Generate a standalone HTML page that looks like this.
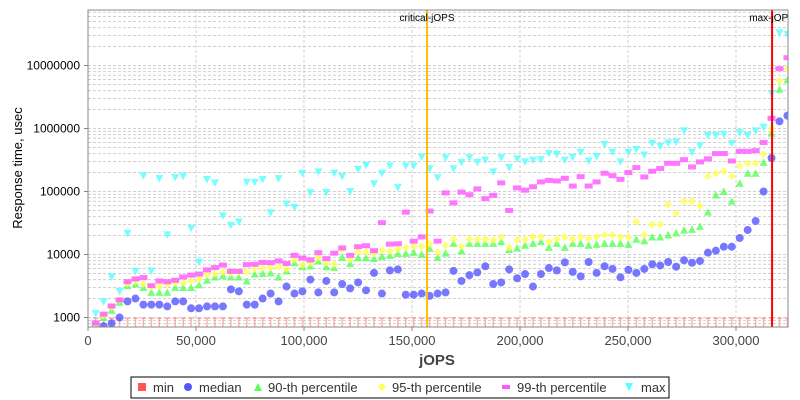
<!DOCTYPE html>
<html><head><meta charset="utf-8"><style>
body{margin:0;background:#fff;}
svg{display:block;font-family:"Liberation Sans",sans-serif;}
</style></head><body>
<svg id="chart" width="800" height="400" viewBox="0 0 800 400" xmlns="http://www.w3.org/2000/svg">
<defs><clipPath id="plotclip"><rect x="88" y="10" width="700" height="317"/></clipPath></defs>
<rect x="0" y="0" width="800" height="400" fill="#fff"/>
<rect x="88" y="10" width="700" height="317" fill="#fff"/>
<g id="grid"></g>
<g id="marks" clip-path="url(#plotclip)"></g>
<rect x="88" y="10" width="700" height="317" fill="none" stroke="#888" stroke-width="1"/>
<g id="axes"></g>
<text x="0" y="0" transform="translate(22,168) rotate(-90)" text-anchor="middle" font-size="13" fill="#000">Response time, usec</text>
<text x="437" y="365" text-anchor="middle" font-size="15" font-weight="bold" fill="#444">jOPS</text>
<g>
<rect x="131" y="377" width="538" height="21" fill="#fff" stroke="#000" stroke-width="1"/>
<g><rect x="138" y="383" width="8" height="8" fill="#ff5555"/><text x="153" y="392" font-size="13" fill="#333">min</text></g>
<g><circle cx="188" cy="387" r="4" fill="#5555ff"/><text x="199" y="392" font-size="13" fill="#333">median</text></g>
<g><polygon points="258,383 262,391 254,391" fill="#55ff55"/><text x="268" y="392" font-size="13" fill="#333">90-th percentile</text></g>
<g><polygon points="382,383 386,387 382,391 378,387" fill="#ffff55"/><text x="392" y="392" font-size="13" fill="#333">95-th percentile</text></g>
<g><rect x="502" y="385" width="8" height="4" fill="#ff55ff"/><text x="517" y="392" font-size="13" fill="#333">99-th percentile</text></g>
<g><polygon points="625,383 633,383 629,391" fill="#55ffff"/><text x="641" y="392" font-size="13" fill="#333">max</text></g>
</g>
</svg>
<script>
const jops=[3565,7246,10927,14608,18289,21970,25651,29332,33013,36694,40375,44056,47737,51418,55099,58780,62461,66142,69823,73504,77185,80866,84547,88228,91909,95590,99271,102952,106633,110314,113995,117676,121357,125038,128719,132400,136081,139762,143443,147124,150805,154486,158167,161848,165529,169210,172891,176572,180253,183934,187615,191296,194977,198658,202339,206020,209701,213382,217063,220744,224425,228106,231787,235468,239149,242830,246511,250192,253873,257554,261235,264916,268597,272278,275959,279640,283321,287002,290683,294364,298045,301726,305407,309088,312769,316450,320131,323812];
const minV=jops.map(()=>1000);
const median=[700,730,810,1000,1800,2000,1600,1600,1600,1500,1800,1800,1400,1400,1500,1500,1500,2800,2600,1600,1600,2000,
2400,1800,3100,2400,2600,4000,2500,3800,2500,3400,2900,3600,2700,5100,2400,5600,5800,2300,2300,2400,2200,2400,
2500,5500,3800,4700,5200,6500,3400,3600,5800,4200,4900,3100,4900,6100,5600,7500,5300,4500,7600,5100,6500,5900,
4350,5700,5100,5900,7000,6700,7600,6400,8100,7400,7900,10700,11500,13300,13300,18300,24500,34000,100000,340000,1300000,1600000];
const p90=[750,1000,1300,1750,3200,3400,3000,2500,2500,2500,3000,3000,3000,3300,3900,4400,4600,4400,4400,3800,4900,5000,
5100,4400,5500,7400,6400,6600,7900,6400,6200,9000,7200,8900,8900,8600,9300,9700,10400,10400,10800,10100,12500,9000,
10500,15000,11400,15000,15000,15000,15000,16000,12000,12600,14000,15000,16000,13000,15000,13000,15000,15000,14000,14500,15000,15000,
15000,14500,17500,16500,19000,19000,20500,22000,24500,25000,28000,47000,88000,100000,70000,135000,195000,195000,290000,840000,4200000,5900000];
const p95=[720,1070,1480,1900,3500,3800,3400,3100,3200,3400,3600,3600,3800,4100,4800,5000,5300,5100,5300,5300,5900,6200,
6200,6400,5900,8300,6800,7400,8900,7400,7000,11900,8300,11000,11000,10300,11700,11300,12100,13000,13600,13400,14800,11000,
14000,17500,13500,17500,17500,17500,17000,19000,13000,17000,17500,19000,19000,16000,17500,19000,17500,19000,18000,19000,20500,20500,
19000,19000,33000,20500,30000,30000,62000,45000,70000,70000,59000,175000,195000,210000,175000,255000,280000,280000,390000,1000000,5700000,8800000];
const p99=[820,1130,1520,1900,3700,4100,4300,3200,3800,3700,3900,4400,4700,4900,5700,6200,6800,5400,5400,6900,7000,7500,
7400,7900,7200,9700,8800,8200,10700,8600,10500,12700,9700,13300,13800,11500,32000,14600,14800,47000,16300,19000,49000,16300,
95000,66000,98000,89000,110000,77000,87000,137000,50000,114000,105000,119000,142000,150000,147000,162000,122000,172000,122000,142000,195000,178000,
156000,200000,240000,170000,210000,232000,280000,280000,320000,245000,295000,330000,400000,400000,305000,435000,435000,445000,600000,1450000,8900000,13300000];
const maxV=[1160,1780,4400,2600,21600,5400,177000,5500,160000,20500,167000,175000,26000,7600,155000,137000,41000,29000,33000,140000,140000,155000,
46000,160000,63000,56000,195000,96000,205000,97000,195000,172000,100000,225000,260000,133000,195000,255000,115000,255000,255000,355000,230000,165000,
343000,230000,290000,343000,291000,315000,205000,343000,240000,330000,295000,315000,320000,400000,390000,315000,350000,420000,305000,360000,560000,420000,
295000,420000,465000,380000,580000,520000,590000,610000,920000,420000,530000,780000,780000,810000,580000,860000,780000,920000,1050000,3600000,33000000,31000000];
const xTicks=[0,50000,100000,150000,200000,250000,300000];
const xTickLabels=["0","50,000","100,000","150,000","200,000","250,000","300,000"];
const yTicks=[1000,10000,100000,1000000,10000000];
const yTickLabels=["1000","10000","100000","1000000","10000000"];
const criticalJops=156950;
const maxJops=316700;

const NS="http://www.w3.org/2000/svg";
const X0=88,X1=788,Y0=10,Y1=327;
const XMAX=324074;
function xs(v){return X0+v/XMAX*(X1-X0);}
function ys(v){return 317.5-(Math.log10(v)-3)*63;}
function mk(tag,attrs,parent){const e=document.createElementNS(NS,tag);for(const k in attrs)e.setAttribute(k,attrs[k]);parent.appendChild(e);return e;}
const grid=document.getElementById('grid'),marks=document.getElementById('marks'),axes=document.getElementById('axes');

// horizontal minor grid
for(let d=2;d<=7;d++){for(let m=1;m<=9;m++){const v=m*Math.pow(10,d);const y=ys(v);if(y<Y0||y>Y1)continue;
 const l=mk('line',{x1:X0,x2:X1,y1:y,y2:y,stroke:'#d0d0d0','stroke-width':1,'stroke-dasharray':'3,2'},grid);
 
 }}
xTicks.forEach((t,i)=>{const x=xs(t);
 if(i>0){const l=mk('line',{x1:x,x2:x,y1:Y0,y2:Y1,stroke:'#d0d0d0','stroke-width':1,'stroke-dasharray':'3,2'},grid);
 
 }
 const tk=mk('line',{x1:x,x2:x,y1:Y1,y2:Y1+4,stroke:'#888'},axes);
 
 
 const tx=mk('text',{x:x,y:345,'text-anchor':'middle','font-size':13,fill:'#444'},axes);tx.textContent=xTickLabels[i];
 
 });
yTicks.forEach((t,i)=>{const y=ys(t);
 const tk=mk('line',{x1:X0-4,x2:X0,y1:y,y2:y,stroke:'#888'},axes);
 
 
 const tx=mk('text',{x:80,y:y+4,'text-anchor':'end','font-size':12,fill:'#000'},axes);tx.textContent=yTickLabels[i];
 
 });

// min markers
jops.forEach((j,i)=>{const x=xs(j),y=ys(minV[i]);
 const g=mk('g',{fill:'#ff8080','fill-opacity':0.6},marks);
 
 
 mk('rect',{x:x-2.5,y:y,width:5,height:1.5},g);mk('rect',{x:x-0.75,y:y,width:1.5,height:Y1-y},g);});

function series(arr,color,shape,name){arr.forEach((v,i)=>{const x=xs(jops[i]),y=ys(v);let e;
 if(shape==='circle')e=mk('circle',{cx:x,cy:y,r:4},marks);
 else if(shape==='up')e=mk('polygon',{points:`${x},${y-4} ${x+4},${y+3.5} ${x-4},${y+3.5}`},marks);
 else if(shape==='down')e=mk('polygon',{points:`${x-4},${y-3.5} ${x+4},${y-3.5} ${x},${y+4}`},marks);
 else if(shape==='diamond')e=mk('polygon',{points:`${x},${y-4} ${x+4},${y} ${x},${y+4} ${x-4},${y}`},marks);
 else e=mk('rect',{x:x-4,y:y-2.5,width:8,height:5},marks);
 e.setAttribute('fill',color);e.setAttribute('fill-opacity',0.8);
 
 });}
series(median,'#5555ff','circle','median-point');
series(p90,'#55ff55','up','p90-point');
series(p95,'#ffff55','diamond','p95-point');
series(p99,'#ff55ff','rect','p99-point');
series(maxV,'#55ffff','down','max-point');

// marker lines
const cx=xs(criticalJops),mx=xs(maxJops);
const cl=mk('line',{x1:cx,x2:cx,y1:Y0,y2:Y1,stroke:'#ffc000','stroke-width':2},marks);


const ml=mk('line',{x1:mx,x2:mx,y1:Y0,y2:Y1,stroke:'#ff0000','stroke-width':2},marks);


const ct=mk('text',{x:cx,y:21,'text-anchor':'middle','font-size':10,fill:'#000'},marks);ct.textContent='critical-jOPS';


const mt=mk('text',{x:mx,y:21,'text-anchor':'middle','font-size':10,fill:'#000'},marks);mt.textContent='max-jOPS';


</script>
</body></html>
